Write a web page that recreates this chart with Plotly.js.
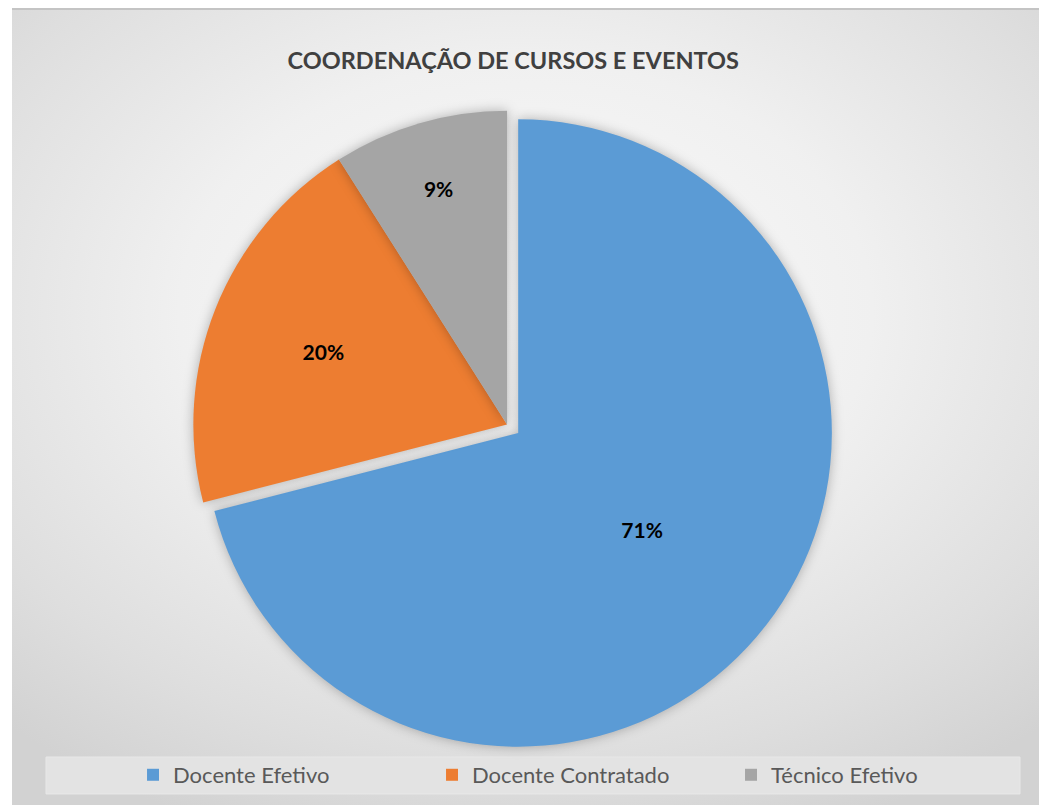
<!DOCTYPE html>
<html>
<head>
<meta charset="utf-8">
<script src="https://cdn.plot.ly/plotly-3.0.1.min.js"></script>
<style>
  html, body { margin: 0; padding: 0; background: #ffffff; }
  #wrap { position: relative; width: 1039px; height: 805px; overflow: hidden; }
  #bg {
    position: absolute; left: 12px; top: 8px; width: 1027px; height: 797px;
    border-top: 2px solid #c4c4c4;
    background: radial-gradient(ellipse 75% 70% at 50% 38%, #fbfbfb 0%, #f0f0f0 45%, #dedede 80%, #d2d2d2 100%);
  }
  #chart { position: absolute; left: 0; top: 0; width: 1039px; height: 805px; }
  #chart .pielayer .slice path { filter: drop-shadow(0px 0px 6px rgba(0,0,0,0.28)); }
</style>
</head>
<body>
<div id="wrap">
  <div id="bg"></div>
  <div id="chart"></div>
</div>
<script>
const chartTitle = "COORDENAÇÃO DE CURSOS E EVENTOS";
const categories = ["Docente Efetivo", "Docente Contratado", "Técnico Efetivo"];
const shares = [71, 20, 9];
const sliceColors = ["#5b9bd5", "#ed7d31", "#a5a5a5"];
const explode = [0.045, 0, 0];

const trace = {
  type: "pie",
  labels: categories,
  values: shares,
  sort: false,
  direction: "clockwise",
  rotation: 0,
  pull: explode,
  marker: { colors: sliceColors, line: { width: 0 } },
  textinfo: "percent",
  texttemplate: "<b>%{percent:.0%}</b>",
  textposition: "inside",
  insidetextorientation: "horizontal",
  insidetextfont: { family: "Lato, 'Open Sans', sans-serif", size: 21, color: "#000000" },
  hoverinfo: "label+percent",
  domain: { x: [0.1713, 0.8047], y: [0.0656, 0.8800] }
};

const layout = {
  width: 1039,
  height: 805,
  margin: { l: 0, r: 0, t: 0, b: 0 },
  paper_bgcolor: "rgba(0,0,0,0)",
  plot_bgcolor: "rgba(0,0,0,0)",
  title: {
    text: "<b>" + chartTitle + "</b>",
    x: 0.494, xanchor: "center", xref: "paper",
    y: 0.925, yanchor: "middle", yref: "container",
    font: { family: "Lato, 'Open Sans', sans-serif", size: 23.5, color: "#404040" }
  },
  showlegend: true,
  legend: {
    orientation: "h",
    x: 0.5597, xanchor: "center",
    y: 0.0373, yanchor: "middle",
    bgcolor: "rgba(0,0,0,0)",
    font: { family: "Lato, 'Open Sans', sans-serif", size: 22, color: "#595959" },
    entrywidth: 254,
    entrywidthmode: "pixels",
    itemwidth: 30,
    traceorder: "normal"
  },
  shapes: [{
    type: "rect", xref: "paper", yref: "paper",
    x0: 0.0443, x1: 0.9817, y0: 0.0137, y1: 0.0596,
    fillcolor: "#e3e3e3", line: { width: 1, color: "#e8e8e8" }, layer: "below"
  }]
};

Plotly.newPlot("chart", [trace], layout, { displayModeBar: false, staticPlot: true });
</script>
</body>
</html>
